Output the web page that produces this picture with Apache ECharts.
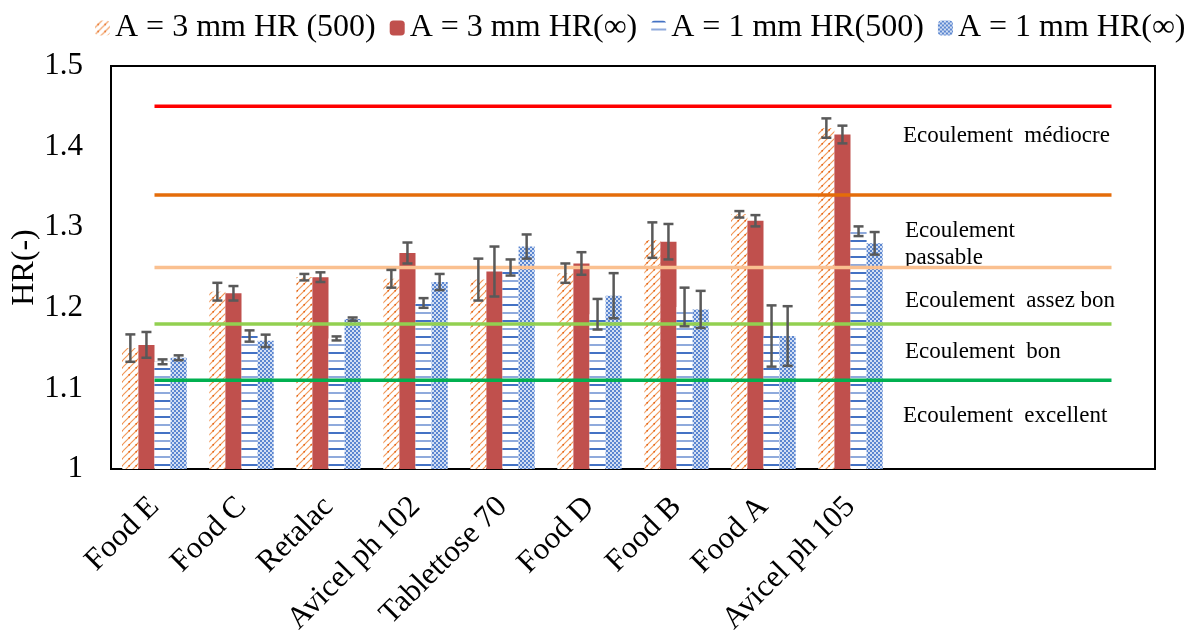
<!DOCTYPE html>
<html>
<head>
<meta charset="utf-8">
<script src="https://cdn.jsdelivr.net/npm/echarts@6/dist/echarts.min.js"></script>
<style>
html,body{margin:0;padding:0;background:#fff;}
#chart{width:1197px;height:634px;}
</style>
</head>
<body>
<div id="chart"></div>
<script>
// ---- data ----
const categories = ['Food E', 'Food C', 'Retalac', 'Avicel ph 102', 'Tablettose 70', 'Food D', 'Food B', 'Food A', 'Avicel ph 105', '', ' ', '  '];
const seriesNames = ['A = 3 mm HR (500)', 'A = 3 mm HR(\u221E)', 'A = 1 mm HR(500)', 'A = 1 mm HR(\u221E)'];
const hr3_500 = [1.150, 1.220, 1.238, 1.236, 1.235, 1.243, 1.284, 1.316, 1.423];
const hr3_inf = [1.154, 1.218, 1.238, 1.268, 1.245, 1.255, 1.282, 1.308, 1.415];
const hr1_500 = [1.133, 1.165, 1.162, 1.206, 1.250, 1.192, 1.201, 1.165, 1.295];
const hr1_inf = [1.138, 1.159, 1.186, 1.232, 1.276, 1.215, 1.198, 1.165, 1.280];
const err3_500 = [0.017, 0.011, 0.004, 0.011, 0.026, 0.012, 0.022, 0.004, 0.012];
const err3_inf = [0.016, 0.009, 0.006, 0.013, 0.031, 0.014, 0.022, 0.007, 0.011];
const err1_500 = [0.003, 0.007, 0.0025, 0.006, 0.010, 0.019, 0.024, 0.038, 0.006];
const err1_inf = [0.003, 0.0077, 0.002, 0.010, 0.015, 0.028, 0.023, 0.037, 0.014];
const thresholds = [1.45, 1.34, 1.25, 1.18, 1.11];
const thresholdColors = ['#FF0000', '#E46C0A', '#FAC090', '#92D050', '#00B050'];
const zoneLabels = ['Ecoulement  m\u00e9diocre', 'Ecoulement\npassable', 'Ecoulement  assez bon', 'Ecoulement  bon', 'Ecoulement  excellent'];
const yTicks = [1, 1.1, 1.2, 1.3, 1.4, 1.5];

// ---- patterns ----
function makeCanvas(w, h) { const c = document.createElement('canvas'); c.width = w; c.height = h; return c; }
function hatchPattern() {
  const s = 7;
  const c = makeCanvas(s, s), g = c.getContext('2d');
  g.fillStyle = '#ffffff'; g.fillRect(0, 0, s, s);
  g.strokeStyle = '#F29A5A'; g.lineWidth = 1.2;
  g.beginPath(); g.moveTo(-1, s + 1); g.lineTo(s + 1, -1); g.stroke();
  g.beginPath(); g.moveTo(-1, 1); g.lineTo(1, -1); g.stroke();
  g.beginPath(); g.moveTo(s - 1, s + 1); g.lineTo(s + 1, s - 1); g.stroke();
  g.fillStyle = '#E46010'; g.fillRect(2.5, 3, 1.5, 1.5);
  return c;
}
function stripePattern() {
  const c = makeCanvas(8, 16), g = c.getContext('2d');
  g.fillStyle = '#ffffff'; g.fillRect(0, 0, 8, 16);
  g.fillStyle = '#4472C4'; g.fillRect(0, 0, 8, 2);
  g.fillStyle = '#8FAADC'; g.fillRect(0, 8, 8, 2);
  return c;
}
function dotPattern() {
  const c = makeCanvas(4, 4), g = c.getContext('2d');
  g.fillStyle = '#D2DEF3'; g.fillRect(0, 0, 4, 4);
  g.fillStyle = '#5B86D0';
  g.fillRect(0, 0, 2, 2); g.fillRect(2, 2, 2, 2);
  return c;
}
const fills = [
  { image: hatchPattern(), repeat: 'repeat' },
  '#C0504D',
  { image: stripePattern(), repeat: 'repeat' },
  { image: dotPattern(), repeat: 'repeat' }
];

const values = [hr3_500, hr3_inf, hr1_500, hr1_inf];
const errs = [err3_500, err3_inf, err1_500, err1_inf];
const GAP = 0.26;

const barSeries = values.map((v, i) => ({
  name: seriesNames[i],
  type: 'bar',
  data: v,
  barGap: '0%',
  barCategoryGap: (GAP * 100) + '%',
  itemStyle: { color: fills[i] },
  z: 2,
  emphasis: { disabled: true }
}));

const errData = [];
errs.forEach((e, si) => e.forEach((d, ci) => errData.push([ci, si, values[si][ci] - d, values[si][ci] + d])));

const errSeries = {
  type: 'custom',
  name: 'err',
  data: errData,
  z: 10,
  renderItem: function (params, api) {
    const ci = api.value(0), si = api.value(1);
    const lo = api.coord([ci, api.value(2)]);
    const hi = api.coord([ci, api.value(3)]);
    const catW = api.size([1, 0])[0];
    const barW = catW * (1 - GAP) / 4;
    const x = lo[0] - 2 * barW + (si + 0.5) * barW;
    const cap = 5;
    const st = { stroke: '#595959', lineWidth: 2.5 };
    return {
      type: 'group',
      children: [
        { type: 'line', shape: { x1: x, y1: lo[1], x2: x, y2: hi[1] }, style: st },
        { type: 'line', shape: { x1: x - cap, y1: lo[1], x2: x + cap, y2: lo[1] }, style: st },
        { type: 'line', shape: { x1: x - cap, y1: hi[1], x2: x + cap, y2: hi[1] }, style: st }
      ]
    };
  }
};

const lineSeries = thresholds.map((t, i) => ({
  type: 'line',
  name: 'thr' + i,
  data: [[0, t], [categories.length - 1, t]],
  symbol: 'none',
  lineStyle: { color: thresholdColors[i], width: 3.5 },
  z: 5,
  silent: true
}));

const labelTops = [122, 217, 287, 338, 402];
const labelLefts = [903, 905, 905, 905, 903];
const graphics = zoneLabels.map((t, i) => ({
  type: 'text',
  left: labelLefts[i],
  top: labelTops[i],
  style: { text: t, font: '23px "Liberation Serif"', fill: '#000', lineHeight: 27 }
}));

const chart = echarts.init(document.getElementById('chart'));
chart.setOption({
  animation: false,
  backgroundColor: '#fff',
  legend: {
    data: seriesNames,
    top: 7,
    left: 90,
    itemWidth: 15,
    itemHeight: 15,
    itemGap: 14,
    textStyle: { fontFamily: 'Liberation Serif', fontSize: 32, color: '#000' }
  },
  grid: { left: 111, right: 42, top: 66, bottom: 165, show: true, borderColor: '#000', borderWidth: 2, containLabel: false, outerBoundsMode: 'none' },
  xAxis: {
    type: 'category',
    data: categories,
    axisLine: { show: true, lineStyle: { color: '#000', width: 2 } },
    axisTick: { show: false },
    axisLabel: { rotate: 45, interval: 0, margin: 33, fontFamily: 'Liberation Serif', fontSize: 31, color: '#000' }
  },
  yAxis: {
    type: 'value',
    min: 1, max: 1.5, interval: 0.1,
    name: 'HR(-)',
    nameLocation: 'middle',
    nameGap: 70,
    nameMoveOverlap: false,
    nameTextStyle: { fontFamily: 'Liberation Serif', fontSize: 32, color: '#000' },
    axisLine: { show: false },
    axisTick: { show: false },
    splitLine: { show: false },
    axisLabel: {
      margin: 28, fontFamily: 'Liberation Serif', fontSize: 31, color: '#000',
      formatter: v => { const t = yTicks.find(x => Math.abs(x - v) < 1e-6); return t === undefined ? '' : String(t); }
    }
  },
  series: [...barSeries, ...lineSeries, errSeries],
  graphic: graphics
});
</script>
</body>
</html>
